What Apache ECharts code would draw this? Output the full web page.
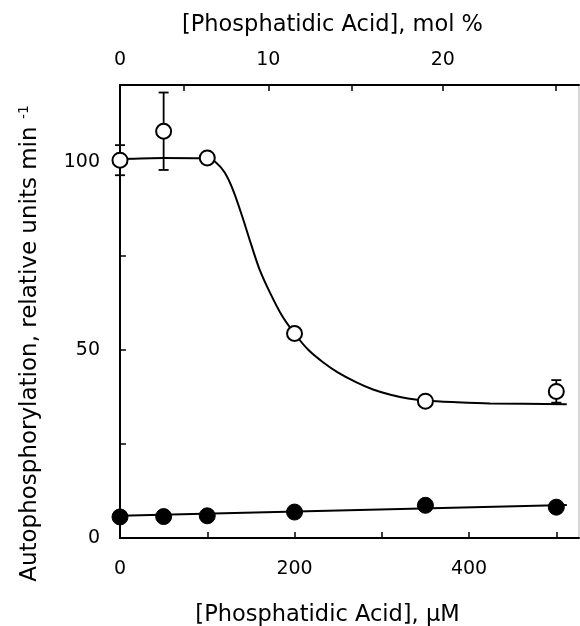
<!DOCTYPE html>
<html>
<head>
<meta charset="utf-8">
<script src="https://cdn.jsdelivr.net/npm/echarts@6/dist/echarts.min.js"></script>
<style>
  html, body { margin: 0; padding: 0; background: #fff; }
  #chart { width: 580px; height: 626px; }
</style>
</head>
<body>
<div id="chart"></div>
<script>
// PA concentration (uM) of the measured points
const concUM = [0, 50, 100, 200, 350, 500];
// open circles (with error bars) and filled circles
const openVals = [100.5, 108.2, 101.1, 54.4, 36.4, 39.0];
const openErr = [4, 10.3, 0, 0, 0, 3];
const closedVals = [5.6, 5.7, 5.9, 6.9, 8.7, 8.2];
// fitted curve through the open circles
const fitX = [0, 50, 100, 110, 120, 130, 140, 150, 160, 172, 185, 200, 216, 233, 250, 271, 290, 310, 330, 351, 386, 424, 512];
const fitY = [100.8, 101.1, 101.0, 99.9, 97.2, 92.3, 85.6, 78.3, 71.4, 65.2, 59.4, 54.4, 50.0, 46.7, 44.0, 41.4, 39.5, 38.1, 37.1, 36.5, 36.1, 35.8, 35.6];
// straight line through the filled circles
const lineX = [0, 512];
const lineY = [5.9, 8.8];
// top axis: mol % ticks placed on the uM scale
const molTickPos = [0, 73, 170, 266, 370, 499];
const molLabelPos = [0, 170, 370];
const molLabels = ['0', '10', '20'];
const bottomTicks = [0, 100, 200, 300, 400, 500];
const bottomLabels = [0, 200, 400];
const yTicks = [0, 25, 50, 75, 100];
const yLabels = [0, 50, 100];

const FONT = 'DejaVu Sans';
const chart = echarts.init(document.getElementById('chart'));

const errData = concUM.map((x, i) => [x, openVals[i] - openErr[i], openVals[i] + openErr[i]])
  .filter((d, i) => openErr[i] > 0);

const option = {
  backgroundColor: '#fff',
  animation: false,
  grid: {
    left: 120, right: 1, top: 85, bottom: 88,
    outerBoundsMode: 'none', containLabel: false,
    show: true, borderColor: '#aaa', borderWidth: 1
  },
  xAxis: [
    {
      type: 'value', min: 0, max: 526, position: 'bottom',
      name: '[Phosphatidic Acid], \u00b5M',
      nameLocation: 'middle', nameGap: 66,
      nameTextStyle: { fontFamily: FONT, fontSize: 22.5, color: '#000', padding: [0, 44, 0, 0] },
      splitLine: { show: false },
      axisLine: { lineStyle: { color: '#000', width: 2 } },
      axisTick: { inside: true, length: 6, customValues: bottomTicks, lineStyle: { color: '#000', width: 1.5 } },
      axisLabel: { customValues: bottomLabels, margin: 22, fontFamily: FONT, fontSize: 19, color: '#000' }
    },
    {
      type: 'value', min: 0, max: 526, position: 'top',
      name: '[Phosphatidic Acid], mol %',
      nameLocation: 'middle', nameGap: 48,
      nameTextStyle: { fontFamily: FONT, fontSize: 22.5, color: '#000', padding: [0, 34, 0, 0] },
      splitLine: { show: false },
      axisLine: { lineStyle: { color: '#000', width: 2 } },
      axisTick: { inside: true, length: 6, customValues: molTickPos, lineStyle: { color: '#000', width: 1.5 } },
      axisLabel: {
        customValues: molLabelPos, margin: 15, fontFamily: FONT, fontSize: 19, color: '#000',
        formatter: v => molLabels[molLabelPos.indexOf(v)]
      }
    }
  ],
  yAxis: {
    type: 'value', min: 0, max: 120.5,
    name: 'Autophosphorylation, relative units min {sup|-1}',
    nameLocation: 'middle', nameGap: 76, nameRotate: 90,
    nameTextStyle: {
      fontFamily: FONT, fontSize: 23, color: '#000', padding: [0, 64, 0, 0],
      rich: { sup: { fontFamily: FONT, fontSize: 14, color: '#000', padding: [0, 0, 13, 0] } }
    },
    splitLine: { show: false },
    axisLine: { lineStyle: { color: '#000', width: 2 } },
    axisTick: { inside: true, length: 6, customValues: yTicks, lineStyle: { color: '#000', width: 1.5 } },
    axisLabel: { customValues: yLabels, margin: 20, fontFamily: FONT, fontSize: 19, color: '#000' }
  },
  series: [
    {
      type: 'line', data: fitX.map((x, i) => [x, fitY[i]]),
      smooth: 0.3, showSymbol: false, z: 2,
      lineStyle: { color: '#000', width: 2 }
    },
    {
      type: 'line', data: lineX.map((x, i) => [x, lineY[i]]),
      showSymbol: false, z: 2,
      lineStyle: { color: '#000', width: 2 }
    },
    {
      type: 'custom', data: errData, z: 3,
      renderItem: (params, api) => {
        const x = api.value(0);
        const lo = api.coord([x, api.value(1)]);
        const hi = api.coord([x, api.value(2)]);
        const w = 5;
        const style = { stroke: '#000', lineWidth: 1.8 };
        return {
          type: 'group',
          children: [
            { type: 'line', shape: { x1: lo[0], y1: lo[1], x2: hi[0], y2: hi[1] }, style },
            { type: 'line', shape: { x1: lo[0] - w, y1: lo[1], x2: lo[0] + w, y2: lo[1] }, style },
            { type: 'line', shape: { x1: hi[0] - w, y1: hi[1], x2: hi[0] + w, y2: hi[1] }, style }
          ]
        };
      }
    },
    {
      type: 'scatter', data: concUM.map((x, i) => [x, openVals[i]]), z: 5,
      symbol: 'circle', symbolSize: 15,
      itemStyle: { color: '#fff', borderColor: '#000', borderWidth: 2, opacity: 1 }
    },
    {
      type: 'scatter', data: concUM.map((x, i) => [x, closedVals[i]]), z: 5,
      symbol: 'circle', symbolSize: 16,
      itemStyle: { color: '#000', borderColor: '#000', borderWidth: 1, opacity: 1 }
    }
  ]
};
chart.setOption(option);
</script>
</body>
</html>
